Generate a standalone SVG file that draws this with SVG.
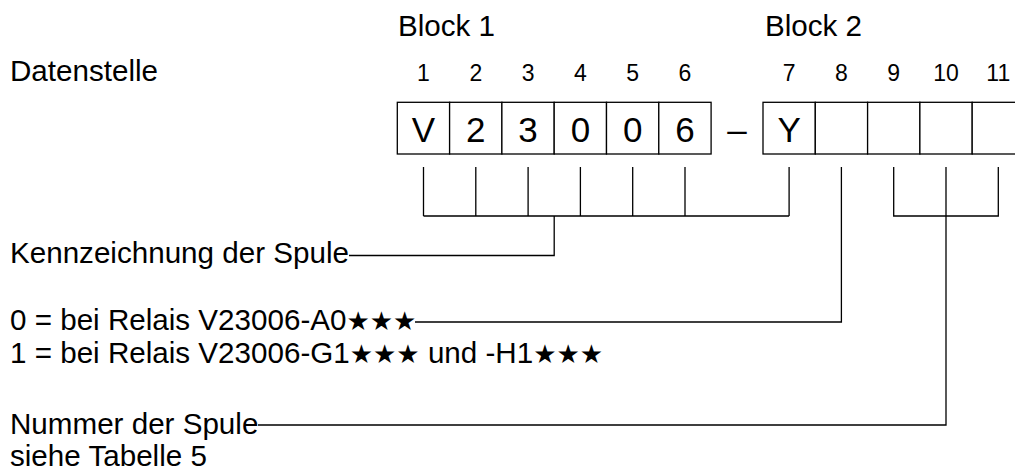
<svg xmlns="http://www.w3.org/2000/svg" width="1015" height="473" viewBox="0 0 1015 473">
<style>
text{font-family:"Liberation Sans",Arial,sans-serif;fill:#000}
.lbl{font-size:29.6px}
.num{font-size:23px;text-anchor:middle}
.cell{font-size:35px;text-anchor:middle}
.star{font-family:"DejaVu Sans",sans-serif;font-size:26px}
.box{fill:#fff;stroke:#000;stroke-width:1.3}
.ln{fill:none;stroke:#000;stroke-width:1.3}
</style>
<rect width="1015" height="473" fill="#fff"/>
<g id="headers">
<text class="lbl" x="398" y="36">Block 1</text>
<text class="lbl" x="765" y="36">Block 2</text>
<text class="lbl" x="10" y="81">Datenstelle</text>
<text class="num" x="423.5" y="81">1</text>
<text class="num" x="475.8" y="81">2</text>
<text class="num" x="528.1" y="81">3</text>
<text class="num" x="580.4" y="81">4</text>
<text class="num" x="632.7" y="81">5</text>
<text class="num" x="685" y="81">6</text>
<text class="num" x="789.1" y="81">7</text>
<text class="num" x="841.4" y="81">8</text>
<text class="num" x="893.7" y="81">9</text>
<text class="num" x="946" y="81">10</text>
<text class="num" x="998.3" y="81">11</text>
</g>
<g id="block1">
<rect class="box" x="397.3" y="102.3" width="52.3" height="51.7"/>
<rect class="box" x="449.6" y="102.3" width="52.3" height="51.7"/>
<rect class="box" x="501.9" y="102.3" width="52.3" height="51.7"/>
<rect class="box" x="554.2" y="102.3" width="52.3" height="51.7"/>
<rect class="box" x="606.5" y="102.3" width="52.3" height="51.7"/>
<rect class="box" x="658.8" y="102.3" width="52.3" height="51.7"/>
<text class="cell" x="423.5" y="141.5">V</text>
<text class="cell" x="475.8" y="141.5">2</text>
<text class="cell" x="528.1" y="141.5">3</text>
<text class="cell" x="580.4" y="141.5">0</text>
<text class="cell" x="632.7" y="141.5">0</text>
<text class="cell" x="685" y="141.5">6</text>
</g>
<g id="dash"><text class="cell" x="737" y="141.5">–</text></g>
<g id="block2">
<rect class="box" x="763" y="102.3" width="52.3" height="51.7"/>
<rect class="box" x="815.3" y="102.3" width="52.3" height="51.7"/>
<rect class="box" x="867.6" y="102.3" width="52.3" height="51.7"/>
<rect class="box" x="919.9" y="102.3" width="52.3" height="51.7"/>
<rect class="box" x="972.2" y="102.3" width="52.3" height="51.7"/>
<text class="cell" x="789.1" y="141.5">Y</text>
</g>
<g id="labels">
<text class="lbl" x="10" y="263">Kennzeichnung der Spule</text>
<text class="lbl" x="10" y="330">0 = bei Relais V23006-A0<tspan class="star">★★★</tspan></text>
<text class="lbl" x="10" y="363">1 = bei Relais V23006-G1<tspan class="star">★★★</tspan> und -H1<tspan class="star">★★★</tspan></text>
<text class="lbl" x="10" y="434">Nummer der Spule</text>
<text class="lbl" x="10" y="466">siehe Tabelle 5</text>
</g>
<g id="connectors">
<path class="ln" d="M423.5,167V216M475.8,167V216M528.1,167V216M580.4,167V216M632.7,167V216M685,167V216M789.1,167V216M423.5,216H789.1"/>
<path class="ln" d="M554.2,216V255.5H349"/>
<path class="ln" d="M841.4,167V322H415"/>
<path class="ln" d="M893.7,167V216H998.3V167M946,167V425H258"/>
</g>
</svg>
